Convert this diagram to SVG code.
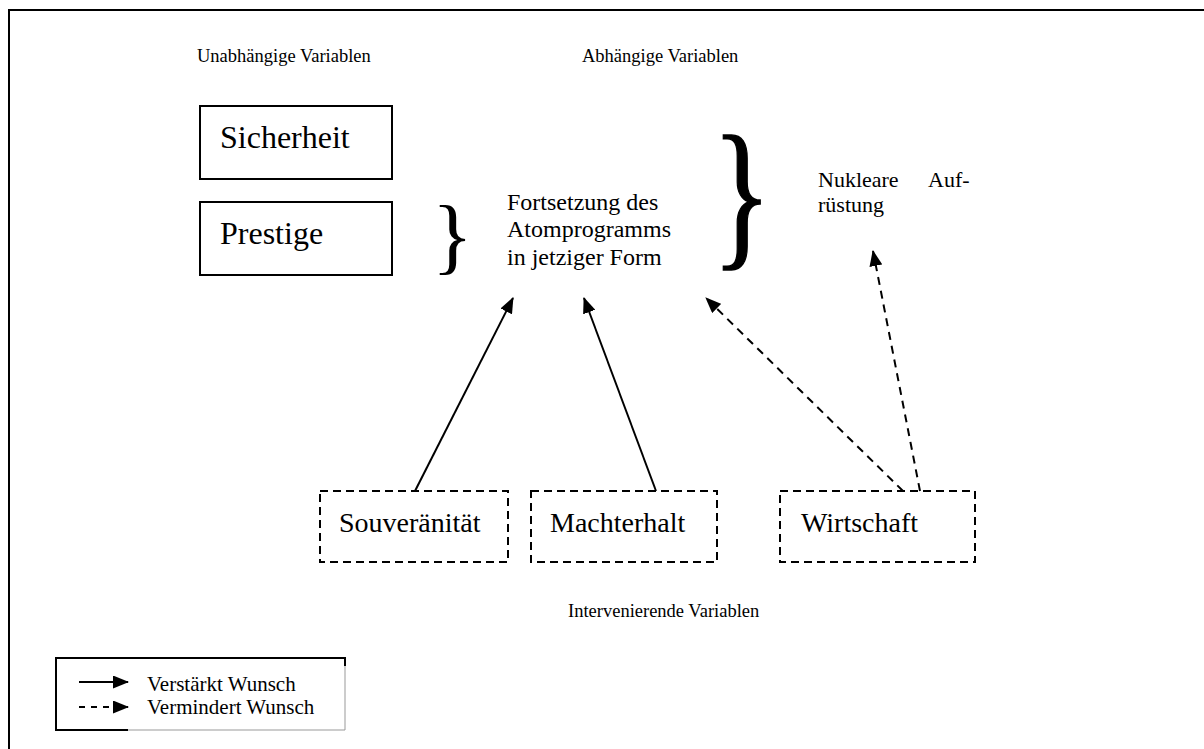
<svg xmlns="http://www.w3.org/2000/svg" width="1204" height="749" viewBox="0 0 1204 749">
  <defs>
    <style>
      text { font-family: "Liberation Serif", "Times New Roman", serif; fill: #000; }
      .hdr { font-size: 18.5px; }
      .big { font-size: 32px; }
      .mid { font-size: 28px; }
      .dep { font-size: 24px; }
      .nuk { font-size: 22px; }
      .leg { font-size: 21px; }
      .box { fill: #fff; stroke: #000; stroke-width: 2; }
      .dbox { fill: #fff; stroke: #000; stroke-width: 2; stroke-dasharray: 8 5; }
      .solid { stroke: #000; stroke-width: 2; fill: none; marker-end: url(#head); }
      .dash { stroke: #000; stroke-width: 2; fill: none; stroke-dasharray: 8 6; marker-end: url(#head); }
    </style>
    <marker id="head" viewBox="0 0 16 13" refX="15" refY="6.5" markerWidth="16" markerHeight="13" markerUnits="userSpaceOnUse" orient="auto">
      <path d="M0,0 L16,6.5 L0,13 z" fill="#000"/>
    </marker>
  </defs>

  <rect width="1204" height="749" fill="#fff"/>

  <!-- page frame -->
  <path d="M9,749 V10 H1204" fill="none" stroke="#000" stroke-width="2"/>

  <!-- column headers -->
  <text class="hdr" x="197" y="62">Unabhängige Variablen</text>
  <text class="hdr" x="582" y="62">Abhängige Variablen</text>

  <g id="sicherheit">
    <rect class="box" x="200" y="106" width="192" height="73"/>
    <text class="big" x="220" y="148">Sicherheit</text>
  </g>
  <g id="prestige">
    <rect class="box" x="200" y="202" width="192" height="73"/>
    <text class="big" x="220" y="244">Prestige</text>
  </g>

  <g id="brace-small">
    <text x="432" y="264" style="font-size:85px">}</text>
  </g>

  <g id="fortsetzung">
    <text class="dep" x="507" y="210">Fortsetzung des</text>
    <text class="dep" x="507" y="237">Atomprogramms</text>
    <text class="dep" x="507" y="265">in jetziger Form</text>
  </g>

  <g id="brace-large" transform="translate(712,248) scale(0.78,1.02)">
    <text x="0" y="0" style="font-size:159px" stroke="#000" stroke-width="1.5">}</text>
  </g>

  <g id="aufruestung">
    <text class="nuk" x="818" y="187">Nukleare</text>
    <text class="nuk" x="928" y="187">Auf-</text>
    <text class="nuk" x="818" y="212">rüstung</text>
  </g>

  <g id="souveraenitaet">
    <rect class="dbox" x="320" y="491" width="188" height="71"/>
    <text class="mid" x="339" y="532">Souveränität</text>
  </g>
  <g id="machterhalt">
    <rect class="dbox" x="531" y="491" width="186" height="71"/>
    <text class="mid" x="550" y="532">Machterhalt</text>
  </g>
  <g id="wirtschaft">
    <rect class="dbox" x="780" y="491" width="195" height="71"/>
    <text class="mid" x="801" y="532">Wirtschaft</text>
  </g>

  <text class="hdr" x="568" y="617">Intervenierende Variablen</text>

  <g id="connectors">
    <line class="solid" x1="415" y1="491" x2="513" y2="298"/>
    <line class="solid" x1="656" y1="491" x2="584" y2="298"/>
    <line class="dash" x1="903" y1="491" x2="706" y2="298"/>
    <line class="dash" x1="920" y1="491" x2="873" y2="251"/>
  </g>

  <g id="legend">
    <path d="M345,658 V730 H128" fill="none" stroke="#999" stroke-width="1"/>
    <path d="M345,666 V658 H56 V730 H128" fill="none" stroke="#000" stroke-width="2"/>
    <line x1="79" y1="682" x2="128" y2="682" stroke="#000" stroke-width="2" marker-end="url(#head)"/>
    <line x1="79" y1="707" x2="128" y2="707" stroke="#000" stroke-width="2" stroke-dasharray="6 6" marker-end="url(#head)"/>
    <text class="leg" x="147" y="691">Verstärkt Wunsch</text>
    <text class="leg" x="147" y="714">Vermindert Wunsch</text>
  </g>
</svg>
